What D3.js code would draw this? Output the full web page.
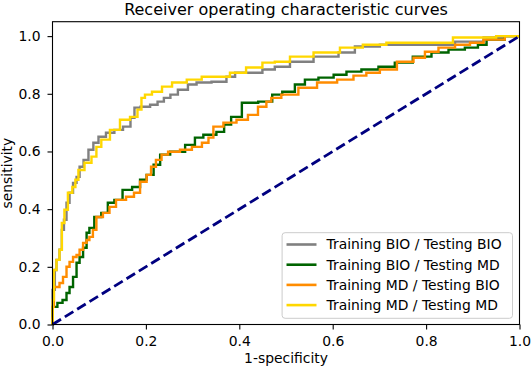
<!DOCTYPE html>
<html>
<head>
<meta charset="utf-8">
<script src="https://cdn.jsdelivr.net/npm/d3@7/dist/d3.min.js"></script>
<style>
    body { margin: 0; background: #fff; }
    text { font-family: "DejaVu Sans", sans-serif; fill: #000; }
</style>
</head>
<body>
<div id="chart1"></div>
<script>
// values
const seriesNames = ["Training BIO / Testing BIO", "Training BIO / Testing MD",
                     "Training MD / Testing BIO", "Training MD / Testing MD"];
const seriesColors = ["#808080", "#006400", "#ff8c00", "#ffd700"];

const fprBioBio = [0, 0, 0.005, 0.005, 0.012, 0.018, 0.022, 0.027, 0.033, 0.040, 0.048, 0.055, 0.061, 0.072, 0.082, 0.093, 0.104, 0.125, 0.140, 0.162, 0.172, 0.179, 0.198, 0.220, 0.230, 0.247, 0.258, 0.279, 0.301, 0.316, 0.365, 0.380, 0.402, 0.434, 0.465, 0.487, 0.530, 0.588, 0.637, 0.658, 0.744, 0.815, 0.909, 0.937, 1];
const tprBioBio = [0, 0.120, 0.120, 0.189, 0.224, 0.259, 0.328, 0.363, 0.422, 0.457, 0.491, 0.512, 0.547, 0.571, 0.606, 0.630, 0.651, 0.665, 0.675, 0.686, 0.717, 0.752, 0.755, 0.762, 0.773, 0.786, 0.797, 0.814, 0.832, 0.839, 0.842, 0.859, 0.873, 0.873, 0.884, 0.894, 0.911, 0.929, 0.943, 0.964, 0.970, 0.970, 0.981, 0.995, 1];

const fprBioMd = [0, 0, 0.005, 0.016, 0.027, 0.033, 0.040, 0.048, 0.055, 0.061, 0.070, 0.076, 0.082, 0.097, 0.112, 0.125, 0.140, 0.160, 0.181, 0.194, 0.209, 0.224, 0.237, 0.267, 0.301, 0.309, 0.337, 0.365, 0.370, 0.395, 0.416, 0.465, 0.476, 0.508, 0.530, 0.551, 0.588, 0.616, 0.643, 0.680, 0.716, 0.750, 0.793, 0.830, 0.866, 0.900, 0.922, 0.937, 1];
const tprBioMd = [0, 0.061, 0.061, 0.075, 0.085, 0.109, 0.130, 0.165, 0.214, 0.234, 0.266, 0.318, 0.335, 0.373, 0.387, 0.422, 0.432, 0.467, 0.477, 0.502, 0.519, 0.554, 0.589, 0.599, 0.623, 0.648, 0.658, 0.668, 0.693, 0.720, 0.769, 0.773, 0.797, 0.807, 0.832, 0.849, 0.856, 0.866, 0.877, 0.884, 0.894, 0.908, 0.929, 0.943, 0.953, 0.960, 0.970, 0.988, 1];

const fprMdBio = [0, 0, 0.001, 0.005, 0.012, 0.018, 0.027, 0.033, 0.040, 0.048, 0.055, 0.061, 0.070, 0.076, 0.082, 0.091, 0.097, 0.119, 0.125, 0.147, 0.168, 0.181, 0.194, 0.209, 0.213, 0.230, 0.237, 0.258, 0.288, 0.309, 0.331, 0.337, 0.352, 0.380, 0.408, 0.429, 0.451, 0.465, 0.472, 0.508, 0.545, 0.588, 0.631, 0.658, 0.686, 0.716, 0.759, 0.787, 0.808, 0.845, 0.879, 0.909, 0.937, 1];
const tprMdBio = [0, 0.023, 0.061, 0.130, 0.130, 0.144, 0.165, 0.200, 0.217, 0.234, 0.241, 0.259, 0.283, 0.293, 0.304, 0.328, 0.373, 0.387, 0.408, 0.432, 0.443, 0.457, 0.495, 0.519, 0.547, 0.571, 0.589, 0.599, 0.606, 0.616, 0.630, 0.648, 0.686, 0.700, 0.710, 0.727, 0.755, 0.773, 0.786, 0.797, 0.821, 0.839, 0.849, 0.863, 0.873, 0.884, 0.911, 0.925, 0.946, 0.960, 0.970, 0.977, 0.988, 1];

const fprMdMd = [0, 0, 0.001, 0.005, 0.012, 0.018, 0.022, 0.029, 0.037, 0.048, 0.050, 0.061, 0.076, 0.091, 0.097, 0.112, 0.134, 0.155, 0.177, 0.187, 0.194, 0.202, 0.224, 0.245, 0.267, 0.308, 0.331, 0.365, 0.395, 0.434, 0.465, 0.487, 0.530, 0.588, 0.643, 0.686, 0.744, 0.815, 0.900, 1];
const tprMdMd = [0, 0.016, 0.085, 0.189, 0.224, 0.259, 0.352, 0.398, 0.457, 0.477, 0.502, 0.536, 0.561, 0.582, 0.616, 0.641, 0.675, 0.710, 0.720, 0.745, 0.786, 0.797, 0.807, 0.825, 0.839, 0.849, 0.859, 0.859, 0.873, 0.891, 0.908, 0.911, 0.929, 0.943, 0.960, 0.970, 0.977, 0.977, 0.995, 1];

const chanceX = [0, 1];
const chanceY = [0, 1];
const xTicks = [0, 0.2, 0.4, 0.6, 0.8, 1.0];
const yTicks = [0, 0.2, 0.4, 0.6, 0.8, 1.0];

function zipPoints(xs, ys) {
    return xs.map(function(x, i) { return {x: x, y: ys[i]}; });
}

let series = [
    zipPoints(fprBioBio, tprBioBio),
    zipPoints(fprBioMd, tprBioMd),
    zipPoints(fprMdBio, tprMdBio),
    zipPoints(fprMdMd, tprMdMd)
];

// set the dimensions and margins of the graph
let margin = {top: 21.7, right: 12.5, bottom: 45.5, left: 52.5},
    width = 532 - margin.left - margin.right,
    height = 370 - margin.top - margin.bottom;

let svg = d3.select("#chart1")
    .append("svg")
    .attr("width", width + margin.left + margin.right)
    .attr("height", height + margin.top + margin.bottom)
    .append("g")
    .attr("transform", "translate(" + margin.left + "," + margin.top + ")");

let x = d3.scaleLinear().domain([0, 1]).range([0, width]);
let y = d3.scaleLinear().domain([0, 1.05]).range([height, 0]);

// curves
let line = d3.line()
    .x(function(d) { return x(d.x); })
    .y(function(d) { return y(d.y); })
    .curve(d3.curveStep);

for (let i = 0; i < series.length; i++) {
    svg.append("path")
        .datum(series[i])
        .attr("fill", "none")
        .attr("stroke", seriesColors[i])
        .attr("stroke-width", 2.4)
        .attr("d", line);
}

// chance diagonal
svg.append("path")
    .datum(zipPoints(chanceX, chanceY))
    .attr("fill", "none")
    .attr("stroke", "#000080")
    .attr("stroke-width", 2.8)
    .attr("stroke-dasharray", "10,4.5")
    .attr("d", d3.line().x(d => x(d.x)).y(d => y(d.y)));

// axes
let xAxis = svg.append("g")
    .attr("transform", "translate(0," + height + ")")
    .call(d3.axisBottom(x).tickValues(xTicks).tickFormat(d3.format(".1f"))
        .tickSize(5).tickSizeOuter(0).tickPadding(7));
let yAxis = svg.append("g")
    .call(d3.axisLeft(y).tickValues(yTicks).tickFormat(d3.format(".1f"))
        .tickSize(5).tickSizeOuter(0).tickPadding(7));
[xAxis, yAxis].forEach(function(a) {
    a.selectAll("text").style("font-size", "13.9px").style("font-family", "DejaVu Sans");
    a.selectAll("line").attr("stroke", "#000").attr("stroke-width", 1.1);
    a.select(".domain").remove();
});

// frame
svg.append("rect")
    .attr("width", width)
    .attr("height", height)
    .attr("fill", "none")
    .attr("stroke", "#000")
    .attr("stroke-width", 1.1);

// title and labels
svg.append("text")
    .attr("x", width / 2)
    .attr("y", -6.9)
    .attr("text-anchor", "middle")
    .style("font-size", "16px")
    .text("Receiver operating characteristic curves");

svg.append("text")
    .attr("x", width / 2)
    .attr("y", height + 39)
    .attr("text-anchor", "middle")
    .style("font-size", "13.9px")
    .text("1-specificity");

svg.append("text")
    .attr("transform", "translate(" + (12 - margin.left) + "," + (height / 2) + ") rotate(-90)")
    .attr("text-anchor", "middle")
    .style("font-size", "13.9px")
    .text("sensitivity");

// legend
let legW = 230.4, legH = 85.6, rowH = 20.2;
let legend = svg.append("g")
    .attr("transform", "translate(" + (width - 7 - legW) + "," + (height - 6.2 - legH) + ")");
legend.append("rect")
    .attr("width", legW)
    .attr("height", legH)
    .attr("rx", 3)
    .attr("fill", "#fff")
    .attr("fill-opacity", 0.8)
    .attr("stroke", "#cccccc")
    .attr("stroke-width", 1);
for (let i = 0; i < seriesNames.length; i++) {
    let cy = 11.8 + i * rowH;
    legend.append("line")
        .attr("x1", 4.4).attr("x2", 34.4)
        .attr("y1", cy).attr("y2", cy)
        .attr("stroke", seriesColors[i])
        .attr("stroke-width", 2.6);
    legend.append("text")
        .attr("x", 44.4)
        .attr("y", cy)
        .attr("dy", "0.36em")
        .style("font-size", "13.9px")
        .text(seriesNames[i]);
}
</script>
</body>
</html>
